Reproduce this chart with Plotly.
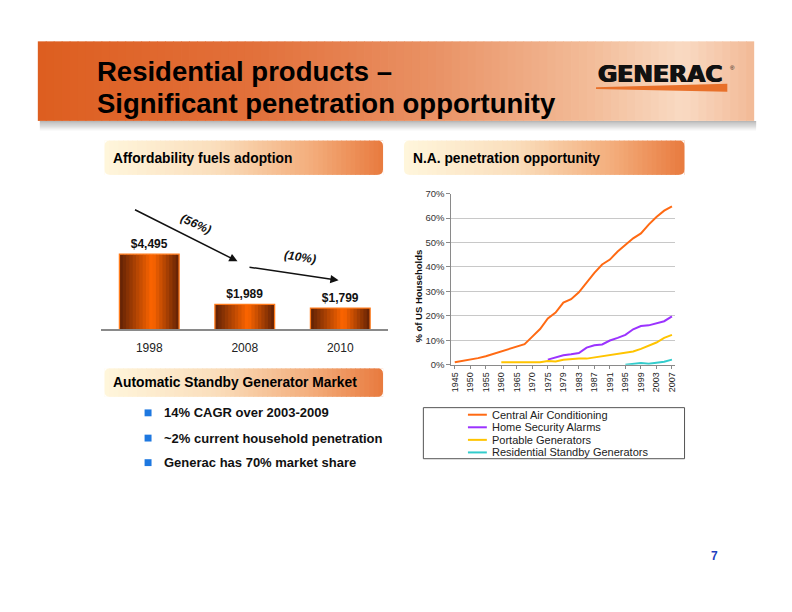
import plotly.graph_objects as go

W, H = 792, 612
def fx(x): return x / W
def fy(y): return 1 - y / H

FONT = "Liberation Sans, Arial, sans-serif"

# ---------------- data ----------------
price_years = ["1998", "2008", "2010"]
price_values = [4495, 1989, 1799]
price_labels = ["$4,495", "$1,989", "$1,799"]
change_labels = ["(56%)", "(10%)"]

pen_years = ["1945", "1947", "1950", "1952", "1955", "1957", "1960", "1962", "1965", "1967",
             "1970", "1972", "1975", "1977", "1979", "1981", "1983", "1985", "1987", "1989",
             "1991", "1993", "1995", "1997", "1999", "2001", "2003", "2005", "2007"]
tick_years = ["1945", "1950", "1955", "1960", "1965", "1970", "1975", "1979", "1983", "1987",
              "1991", "1995", "1999", "2003", "2007"]
central_air = [1.0, 1.5, 2.0, 2.7, 3.5, 4.5, 5.5, 6.2, 7.2, 8.4, 11.5, 14.6, 18.9, 21.3, 25.4,
               26.8, 29.6, 33.6, 37.6, 41.0, 43.0, 46.3, 49.0, 51.7, 53.7, 57.3, 60.4, 63.0, 64.8]
security_alarms = [None] * 12 + [2.1, 2.9, 3.9, 4.3, 4.8, 7.0, 8.0, 8.3, 9.9, 11.0, 12.2, 14.5,
                                 15.8, 16.1, 17.0, 17.8, 19.8]
portable_gens = [None] * 6 + [1.0, 1.0, 1.0, 1.0, 1.0, 1.0, 1.5, 1.3, 2.0, 2.3, 2.5, 2.5, 3.0,
                              3.6, 3.9, 4.5, 4.8, 5.4, 6.5, 7.9, 9.1, 11.0, 12.2]
standby_gens = [None] * 22 + [0.0, 0.4, 0.7, 0.4, 0.9, 1.2, 2.1]

series_names = ["Central Air Conditioning", "Home Security Alarms", "Portable Generators",
                "Residential Standby Generators"]
series_values = [central_air, security_alarms, portable_gens, standby_gens]
series_colors = ["#FF6A13", "#9B33FF", "#FFC400", "#33CCCC"]

bullets = ["14% CAGR over 2003-2009", "~2% current household penetration",
           "Generac has 70% market share"]

# ---------------- helpers ----------------
def lerp(c1, c2, t):
    return tuple(round(a + (b - a) * t) for a, b in zip(c1, c2))

def grad_color(stops, t):
    for (t0, c0), (t1, c1) in zip(stops[:-1], stops[1:]):
        if t <= t1:
            return lerp(c0, c1, (t - t0) / (t1 - t0) if t1 > t0 else 0)
    return stops[-1][1]

def rgb(c):
    return "rgb(%d,%d,%d)" % c

shapes = []
annotations = []

def gradient_rect(x0, x1, y0, y1, stops, n=60, radius=0):
    step = (x1 - x0) / n
    for i in range(n):
        c = grad_color(stops, (i + 0.5) / n)
        shapes.append(dict(type="rect", xref="paper", yref="paper", layer="below",
                           x0=fx(x0 + i * step), x1=fx(min(x1, x0 + (i + 1) * step + 0.8)),
                           y0=fy(y1), y1=fy(y0), line=dict(width=0), fillcolor=rgb(c)))
    if radius:
        r = radius
        corners = [((x0, y0), (x0 + r, y0), (x0, y0 + r)),
                   ((x1, y0), (x1 - r, y0), (x1, y0 + r)),
                   ((x0, y1), (x0 + r, y1), (x0, y1 - r)),
                   ((x1, y1), (x1 - r, y1), (x1, y1 - r))]
        for (cx, cy), (ax, ay), (bx, by) in corners:
            shapes.append(dict(type="path", xref="paper", yref="paper", layer="below",
                               path="M %f,%f L %f,%f Q %f,%f %f,%f Z" % (
                                   fx(cx), fy(cy), fx(ax), fy(ay), fx(cx), fy(cy), fx(bx), fy(by)),
                               fillcolor="white", line=dict(width=0)))

# header shadow
for i in range(10):
    shapes.append(dict(type="rect", xref="paper", yref="paper", layer="below",
                       x0=fx(38), x1=fx(758), y0=fy(117 + i + 1), y1=fy(117 + i),
                       line=dict(width=0), fillcolor="rgba(0,0,0,%.3f)" % (0.28 * (1 - i / 10))))
# header band
header_stops = [(0.0, (221, 94, 32)), (0.3, (226, 112, 58)), (0.55, (233, 145, 100)),
                (0.78, (243, 190, 155)), (0.9, (249, 218, 195)), (1.0, (242, 185, 150))]
gradient_rect(36, 756, 36, 117, header_stops, n=90)

# section heading boxes
box_stops = [(0.0, (255, 246, 220)), (0.4, (250, 222, 188)), (0.75, (243, 172, 122)),
             (1.0, (232, 122, 62))]
gradient_rect(103, 383, 137, 172, box_stops, radius=6)
gradient_rect(404, 686, 137, 172, box_stops, radius=6)
gradient_rect(103, 383, 369, 398, box_stops, radius=6)

# logo wedge
shapes.append(dict(type="path", xref="paper", yref="paper", layer="above",
                   path="M %f,%f L %f,%f L %f,%f L %f,%f Z" % (
                       fx(597), fy(82.8), fx(729), fy(79.3), fx(729), fy(87.3), fx(597), fy(84.5)),
                   fillcolor="#E8702A", line=dict(width=0)))

# ---------------- figure ----------------
fig = go.Figure()

# gradient bars: vertical slices
n_slices = 18
bar_w = 0.625
bar_stops = [(0.0, (95, 32, 5)), (0.55, (255, 102, 0)), (1.0, (95, 32, 5))]
for k in range(n_slices):
    c = grad_color(bar_stops, (k + 0.5) / n_slices)
    sw = bar_w / n_slices
    fig.add_trace(go.Bar(
        x=price_years, y=price_values, width=sw * (1.35 if k < n_slices - 1 else 1.0),
        offset=-bar_w / 2 + k * sw, marker=dict(color=rgb(c), line=dict(width=0)),
        xaxis="x", yaxis="y", showlegend=False, hoverinfo="skip"))
fig.add_trace(go.Bar(
    x=price_years, y=price_values, width=bar_w, offset=-bar_w / 2,
    marker=dict(color="rgba(0,0,0,0)", line=dict(color="#FF7A1A", width=1.3)),
    text=["<b>%s</b>" % s for s in price_labels], textposition="outside",
    textfont=dict(family=FONT, size=12, color="#111"), cliponaxis=False,
    xaxis="x", yaxis="y", showlegend=False, hoverinfo="skip"))

for name, vals, col in zip(series_names, series_values, series_colors):
    fig.add_trace(go.Scatter(x=pen_years, y=vals, mode="lines", name=name,
                             line=dict(color=col, width=2), xaxis="x2", yaxis="y2",
                             showlegend=False, connectgaps=False))

# ---------------- text annotations ----------------
def txt(x, y, s, size, color="#000", xanchor="left", angle=0, family=FONT, **fkw):
    annotations.append(dict(xref="paper", yref="paper", x=fx(x), y=fy(y), text=s,
                            showarrow=False, xanchor=xanchor, yanchor="middle",
                            textangle=angle,
                            font=dict(family=family, size=size, color=color, **fkw)))

txt(93, 66.5, "<b>Residential products –</b>", 27.5)
txt(93, 99.5, "<b>Significant penetration opportunity</b>", 27.5)
txt(661.5, 69, "<b>GENERAC</b>", 23.5, color="#111", xanchor="center",
    family="DejaVu Sans, sans-serif", shadow="0.7px 0 0 #111, -0.7px 0 0 #111")
txt(734, 63, "®", 6, color="#111", xanchor="center")

txt(110, 155, "<b>Affordability fuels adoption</b>", 13.8)
txt(411, 155, "<b>N.A. penetration opportunity</b>", 13.8)
txt(110, 383, "<b>Automatic Standby Generator Market</b>", 13.8)

for i, b in enumerate(bullets):
    yc = [414.3, 440, 465][i]
    shapes.append(dict(type="rect", xref="paper", yref="paper", x0=fx(143.3), x1=fx(150.3),
                       y0=fy(yc + 3.5), y1=fy(yc - 3.5), fillcolor="#1E78E0", line=dict(width=0)))
    txt(161, yc, "<b>%s</b>" % b, 13, color="#111")

txt(716, 560, "<b>7</b>", 12, color="#1F3FBF", xanchor="center")

# change arrows
for (x0, y0, x1, y1) in [(132.7, 207.7, 236.7, 260.0), (247.7, 266.0, 338.3, 279.3)]:
    annotations.append(dict(xref="paper", yref="paper", x=fx(x1), y=fy(y1),
                            ax=x0 - x1, ay=y0 - y1, text="", showarrow=True,
                            arrowhead=2, arrowsize=1.1, arrowwidth=1.5, arrowcolor="#111"))
txt(195, 221.7, "<b><i>%s</i></b>" % change_labels[0], 12, color="#111", xanchor="center", angle=24)
txt(299.3, 256, "<b><i>%s</i></b>" % change_labels[1], 12, color="#111", xanchor="center", angle=8)

# y-axis title of line chart
txt(418.3, 295.7, "<b>% of US Households</b>", 9.5, color="#111", xanchor="center", angle=-90)

# manual legend
shapes.append(dict(type="rect", xref="paper", yref="paper", x0=fx(423.5), x1=fx(686),
                   y0=fy(461), y1=fy(409), line=dict(color="#555", width=1),
                   fillcolor="rgba(0,0,0,0)"))
for i, (name, col) in enumerate(zip(series_names, series_colors)):
    yc = 416.2 + i * 12.8
    shapes.append(dict(type="line", xref="paper", yref="paper", x0=fx(468.3), x1=fx(487.3),
                       y0=fy(yc), y1=fy(yc), line=dict(color=col, width=2)))
    txt(490, yc, name, 11, color="#222")

# ---------------- layout ----------------
fig.update_layout(
    width=W, height=H, margin=dict(l=0, r=0, t=0, b=0),
    paper_bgcolor="white", plot_bgcolor="rgba(0,0,0,0)",
    barmode="overlay", showlegend=False,
    font=dict(family=FONT),
    shapes=shapes, annotations=annotations,
    xaxis=dict(domain=[fx(100), fx(388)], type="category", range=[-0.5, 2.5],
               showline=True, linecolor="#8A8A8A", linewidth=1.5, showgrid=False,
               zeroline=False, ticks="outside", ticklen=7, tickcolor="rgba(0,0,0,0)",
               tickfont=dict(family=FONT, size=12, color="#222"), anchor="y"),
    yaxis=dict(domain=[fy(329), fy(200)], range=[750, 7080], visible=False, anchor="x"),
    xaxis2=dict(domain=[fx(451.7), fx(676.7)], type="category", categoryorder="array",
                categoryarray=pen_years, range=[-0.43, 28.43], tickmode="array",
                tickvals=tick_years, ticktext=tick_years, tickangle=-90,
                tickfont=dict(family=FONT, size=9, color="#222"),
                showline=True, linecolor="#8A8A8A", linewidth=1, showgrid=False,
                zeroline=False, ticks="outside", ticklen=3, tickcolor="#8A8A8A", anchor="y2"),
    yaxis2=dict(domain=[fy(365.3), fy(191)], range=[0, 70], dtick=10, ticksuffix="%",
                showgrid=True, gridcolor="#C8C8C8", gridwidth=1, zeroline=False,
                showline=True, linecolor="#8A8A8A", linewidth=1, ticks="outside",
                ticklen=4, tickcolor="#8A8A8A",
                tickfont=dict(family=FONT, size=9.5, color="#333"), anchor="x2"),
)

fig.write_html("out.html", config={"displayModeBar": False},
               post_script="document.body.style.margin='0';document.body.style.overflow='hidden';")
